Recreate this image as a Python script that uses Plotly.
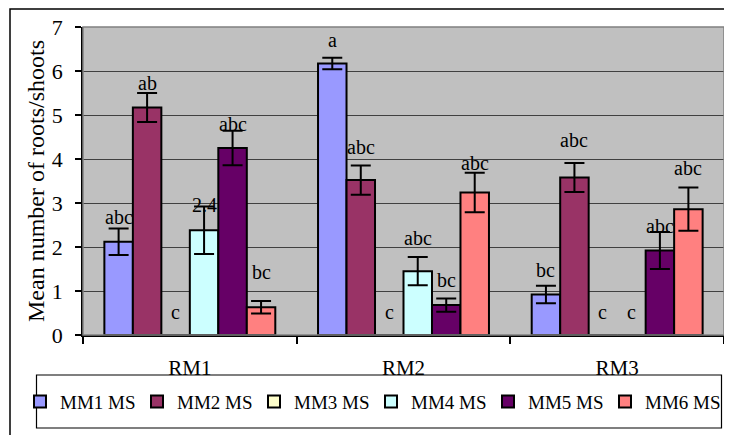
import plotly.graph_objects as go

categories = ["RM1", "RM2", "RM3"]
series_names = ["MM1 MS", "MM2 MS", "MM3 MS", "MM4 MS", "MM5 MS", "MM6 MS"]
colors = ["#9999FF", "#993366", "#FFFFCC", "#CCFFFF", "#660066", "#FF8080"]

# mean values per series (RM1, RM2, RM3)
mm1 = [2.12, 6.17, 0.92]
mm2 = [5.17, 3.52, 3.58]
mm3 = [0.0, 0.0, 0.0]
mm4 = [2.38, 1.45, 0.0]
mm5 = [4.25, 0.68, 1.92]
mm6 = [0.63, 3.24, 2.86]

# standard errors
mm1_err = [0.30, 0.13, 0.20]
mm2_err = [0.33, 0.33, 0.33]
mm3_err = [0.0, 0.0, 0.0]
mm4_err = [0.54, 0.32, 0.0]
mm5_err = [0.39, 0.15, 0.42]
mm6_err = [0.14, 0.45, 0.49]

# significance letters
mm1_lbl = ["abc", "a", "bc"]
mm2_lbl = ["ab", "abc", "abc"]
mm3_lbl = ["c", "c", "c"]
mm4_lbl = ["2.4", "abc", "c"]
mm5_lbl = ["abc", "bc", "abc"]
mm6_lbl = ["bc", "abc", "abc"]

# label heights (data units)
mm1_lbl_y = [2.68, 6.70, 1.47]
mm2_lbl_y = [5.72, 4.27, 4.43]
mm3_lbl_y = [0.52, 0.52, 0.52]
mm4_lbl_y = [2.95, 2.20, 0.52]
mm5_lbl_y = [4.79, 1.24, 2.47]
mm6_lbl_y = [1.43, 3.91, 3.79]

values = [mm1, mm2, mm3, mm4, mm5, mm6]
errors = [mm1_err, mm2_err, mm3_err, mm4_err, mm5_err, mm6_err]
labels = [mm1_lbl, mm2_lbl, mm3_lbl, mm4_lbl, mm5_lbl, mm6_lbl]
label_ys = [mm1_lbl_y, mm2_lbl_y, mm3_lbl_y, mm4_lbl_y, mm5_lbl_y, mm6_lbl_y]

FONT = "Liberation Serif"

fig = go.Figure()
for name, vals, errs, col in zip(series_names, values, errors, colors):
    fig.add_trace(go.Bar(
        name=name, x=categories, y=vals,
        marker=dict(color=col, line=dict(color="black", width=2)),
        error_y=dict(type="data", array=[e if e > 0 else None for e in errs],
                     visible=True, color="black", thickness=2, width=10),
    ))

n = len(series_names)
bargap = 0.2
slot = (1 - bargap) / n
annotations = []
for i in range(n):
    for j, cat in enumerate(categories):
        xpos = j - (1 - bargap) / 2 + (i + 0.5) * slot
        annotations.append(dict(x=xpos, y=label_ys[i][j], xref="x", yref="y",
                                text=labels[i][j], showarrow=False,
                                font=dict(family=FONT, size=20, color="black"),
                                yanchor="middle"))

# page body has an 8px margin; work in screen coordinates
OFF = 8
SW, SH = 732, 435
W, H = SW - OFF, SH - OFF
PL, PR, PT, PB = 83, 724, 27, 335   # plot area in screen px
L, R, T, B = PL - OFF, SW - PR, PT - OFF, SH - PB
pw, ph = PR - PL, PB - PT

def px(xp):
    return (xp - PL) / pw

def py(yp):
    return (PB - yp) / ph

shapes = [
    dict(type="rect", xref="paper", yref="paper", x0=0, x1=1, y0=0, y1=1,
         line=dict(color="#808080", width=1.5), layer="above"),
    dict(type="rect", xref="paper", yref="paper", x0=px(10), x1=px(745),
         y0=py(450), y1=py(9), line=dict(color="black", width=1.5)),
    dict(type="rect", xref="paper", yref="paper", x0=px(36.5), x1=px(721.5),
         y0=py(428), y1=py(375), line=dict(color="black", width=1.2)),
]

fig.update_layout(
    width=W, height=H,
    margin=dict(l=L, r=R, t=T, b=B, autoexpand=False),
    paper_bgcolor="white", plot_bgcolor="#C0C0C0",
    barmode="group", bargap=bargap, bargroupgap=0,
    font=dict(family=FONT, size=20, color="black"),
    showlegend=True,
    legend=dict(orientation="h", x=px(20), xanchor="left", y=py(401.7), yanchor="middle",
                font=dict(family=FONT, size=19, color="black"),
                bgcolor="rgba(0,0,0,0)", borderwidth=0,
                entrywidth=72, entrywidthmode="pixels", itemwidth=30,
                traceorder="normal"),
    annotations=annotations,
    shapes=shapes,
    xaxis=dict(showline=True, linecolor="black", linewidth=1.5, automargin=False,
               ticks="outside", tickson="boundaries", ticklen=7, tickcolor="black",
               tickwidth=1.5, ticklabelstandoff=13,
               tickfont=dict(family=FONT, size=21, color="black"),
               showgrid=False),
    yaxis=dict(range=[0, 7], dtick=1, showline=True, linecolor="black", linewidth=1.5,
               automargin=False,
               ticks="outside", ticklen=6, tickcolor="black", tickwidth=1.5,
               ticklabelstandoff=8,
               tickfont=dict(family=FONT, size=22, color="black"),
               showgrid=True, gridcolor="#404040", gridwidth=1,
               zeroline=False,
               title=dict(text="Mean number of roots/shoots",
                          font=dict(family=FONT, size=24, color="black"), standoff=0)),
)

fig.write_html("out.html")
